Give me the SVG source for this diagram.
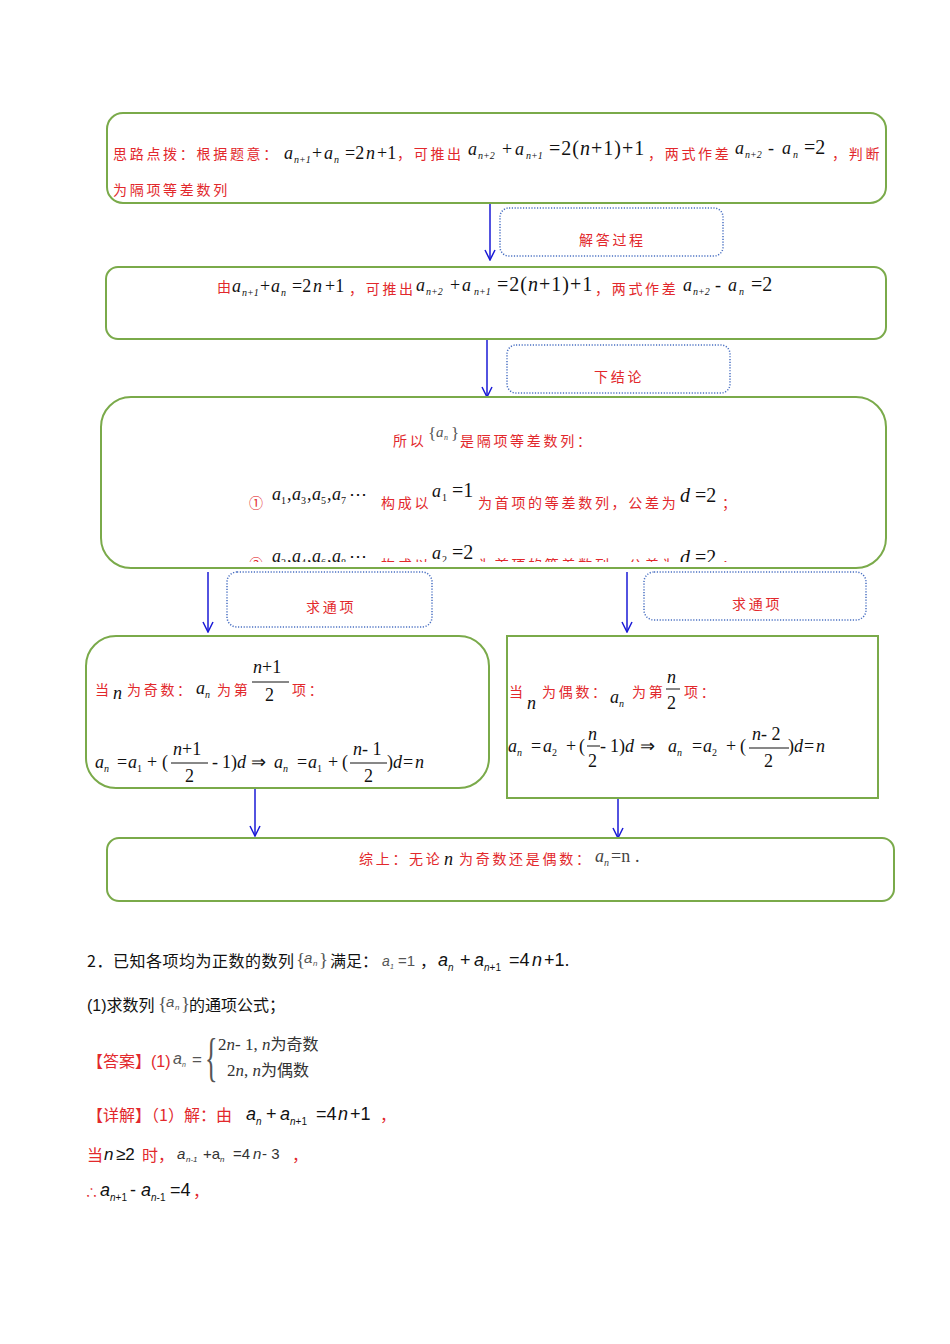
<svg xmlns="http://www.w3.org/2000/svg" width="950" height="1344" viewBox="0 0 950 1344">
<style>
.box{fill:#fff;stroke:#7aaa4a;stroke-width:2}
.dot{fill:#fff;stroke:#4a70c2;stroke-width:1.5;stroke-dasharray:1.2 1.6}
.cn{font-family:"Noto Sans CJK SC",sans-serif;font-size:14px;fill:#e2282c;letter-spacing:2.7px}
.m{font-family:"Liberation Serif",serif;font-style:italic;font-size:18px;fill:#111}
.u{font-style:normal}
.sb{font-size:10px}
.big{font-size:20px}
.tx{font-family:"Noto Sans CJK SC",sans-serif;font-size:16px;fill:#111}
.rd{fill:#e2282c}
.ms{font-family:"Liberation Sans",sans-serif;font-style:italic;font-size:18px;fill:#111}
.gr{fill:#555}
.conn line{stroke:#1a1ad6;stroke-width:1.5}
</style>
<defs>
<marker id="ah" viewBox="0 0 12 12" refX="11" refY="6" markerWidth="12" markerHeight="12" markerUnits="userSpaceOnUse" orient="auto">
<path d="M1,1 L11,6 L1,11" fill="none" stroke="#1a1ad6" stroke-width="1.5"/>
</marker>
<clipPath id="c3"><rect x="101" y="397" width="786" height="165"/></clipPath>
</defs>

<g id="connectors" class="conn">
<line x1="490" y1="200" x2="490" y2="260" marker-end="url(#ah)"/>
<line x1="487" y1="337" x2="487" y2="397" marker-end="url(#ah)"/>
<line x1="208" y1="572" x2="208" y2="632" marker-end="url(#ah)"/>
<line x1="627" y1="572" x2="627" y2="632" marker-end="url(#ah)"/>
<line x1="255" y1="776" x2="255" y2="836" marker-end="url(#ah)"/>
<line x1="618" y1="778" x2="618" y2="838" marker-end="url(#ah)"/>
</g>

<g id="node-hint">
<rect class="box" x="107" y="113" width="779" height="90" rx="16"/>
<text class="cn" x="113" y="159">思路点拨：根据题意：</text>
<text class="m" y="159"><tspan x="284">a</tspan><tspan class="sb" x="294" dy="4">n+1</tspan><tspan class="u" x="312" dy="-4">+</tspan><tspan x="324">a</tspan><tspan class="sb" x="334" dy="4">n</tspan><tspan class="u" x="345" dy="-4">=2</tspan><tspan x="366">n</tspan><tspan class="u" x="377">+1</tspan></text>
<text class="cn" x="397" y="159">，可推出</text>
<text class="m" y="155"><tspan x="468">a</tspan><tspan class="sb" x="478" dy="4">n+2</tspan><tspan class="u" x="502" dy="-4">+</tspan><tspan x="515">a</tspan><tspan class="sb" x="526" dy="4">n+1</tspan><tspan class="u big" x="549" dy="-4" letter-spacing="1">=2(<tspan style="font-style:italic">n</tspan>+1)+1</tspan></text>
<text class="cn" x="648" y="159">，两式作差</text>
<text class="m" y="154"><tspan x="735">a</tspan><tspan class="sb" x="745" dy="4">n+2</tspan><tspan class="u" x="768" dy="-4">-</tspan><tspan x="782">a</tspan><tspan class="sb" x="793" dy="4">n</tspan><tspan class="u big" x="804" dy="-4">=2</tspan></text>
<text class="cn" x="832" y="159">，判断</text>
<text class="cn" x="113" y="195">为隔项等差数列</text>
</g>

<g id="label-process">
<rect class="dot" x="500" y="208" width="223" height="48" rx="9"/>
<text class="cn" x="579" y="245">解答过程</text>
</g>

<g id="node-process">
<rect class="box" x="106" y="267" width="780" height="72" rx="12"/>
<text class="cn" x="217" y="292">由</text>
<text class="m" y="292"><tspan x="232">a</tspan><tspan class="sb" x="242" dy="4">n+1</tspan><tspan class="u" x="260" dy="-4">+</tspan><tspan x="271">a</tspan><tspan class="sb" x="281" dy="4">n</tspan><tspan class="u" x="292" dy="-4">=2</tspan><tspan x="313">n</tspan><tspan class="u" x="325">+1</tspan></text>
<text class="cn" x="349" y="294">，可推出</text>
<text class="m" y="291"><tspan x="416">a</tspan><tspan class="sb" x="426" dy="4">n+2</tspan><tspan class="u" x="450" dy="-4">+</tspan><tspan x="462">a</tspan><tspan class="sb" x="474" dy="4">n+1</tspan><tspan class="u big" x="497" dy="-4" letter-spacing="1">=2(<tspan style="font-style:italic">n</tspan>+1)+1</tspan></text>
<text class="cn" x="595" y="294">，两式作差</text>
<text class="m" y="291"><tspan x="683">a</tspan><tspan class="sb" x="693" dy="4">n+2</tspan><tspan class="u" x="715" dy="-4">-</tspan><tspan x="728">a</tspan><tspan class="sb" x="739" dy="4">n</tspan><tspan class="u big" x="751" dy="-4">=2</tspan></text>
</g>

<g id="label-conclusion">
<rect class="dot" x="507" y="345" width="223" height="48" rx="9"/>
<text class="cn" x="594" y="382">下结论</text>
</g>

<g id="node-conclusion">
<rect class="box" x="101" y="397" width="785" height="171" rx="30"/>
<text class="cn" x="393" y="446">所以</text>
<text class="m u" x="428" y="439" style="font-size:17px;fill:#555;font-style:normal">{</text>
<text class="m gr" x="436" y="437" style="font-size:15px">a</text>
<text class="m sb gr" x="444" y="440" style="font-size:8px">n</text>
<text class="m" x="451" y="439" style="font-size:17px;fill:#555;font-style:normal">}</text>
<text class="cn" x="460" y="446">是隔项等差数列：</text>
<text class="cn" x="249" y="508" letter-spacing="0">①</text>
<text class="m" y="500"><tspan x="272">a</tspan><tspan class="sb u" x="281" dy="4">1</tspan><tspan class="u" x="287" dy="-4">,</tspan><tspan x="292">a</tspan><tspan class="sb u" x="301" dy="4">3</tspan><tspan class="u" x="307" dy="-4">,</tspan><tspan x="312">a</tspan><tspan class="sb u" x="321" dy="4">5</tspan><tspan class="u" x="327" dy="-4">,</tspan><tspan x="332">a</tspan><tspan class="sb u" x="341" dy="4">7</tspan><tspan class="u" x="349" dy="-4">⋯</tspan></text>
<text class="cn" x="381" y="508">构成以</text>
<text class="m" y="497"><tspan x="432">a</tspan><tspan class="sb u" x="442" dy="4">1</tspan><tspan class="u big" x="452" dy="-4">=1</tspan></text>
<text class="cn" x="478" y="508">为首项的等差数列，公差为</text>
<text class="m big" y="502"><tspan x="680">d</tspan><tspan class="u" x="695">=2</tspan></text>
<text class="cn" x="722" y="508">；</text>
<g clip-path="url(#c3)">
<text class="cn" x="249" y="569" letter-spacing="0">②</text>
<text class="m" y="562"><tspan x="272">a</tspan><tspan class="sb u" x="281" dy="4">2</tspan><tspan class="u" x="287" dy="-4">,</tspan><tspan x="292">a</tspan><tspan class="sb u" x="301" dy="4">4</tspan><tspan class="u" x="307" dy="-4">,</tspan><tspan x="312">a</tspan><tspan class="sb u" x="321" dy="4">6</tspan><tspan class="u" x="327" dy="-4">,</tspan><tspan x="332">a</tspan><tspan class="sb u" x="341" dy="4">8</tspan><tspan class="u" x="349" dy="-4">⋯</tspan></text>
<text class="cn" x="381" y="570">构成以</text>
<text class="m" y="559"><tspan x="432">a</tspan><tspan class="sb u" x="442" dy="4">2</tspan><tspan class="u big" x="452" dy="-4">=2</tspan></text>
<text class="cn" x="478" y="570">为首项的等差数列，公差为</text>
<text class="m big" y="564"><tspan x="680">d</tspan><tspan class="u" x="695">=2</tspan></text>
<text class="cn" x="722" y="570">；</text>
</g>
</g>

<g id="label-odd">
<rect class="dot" x="227" y="572" width="205" height="55" rx="10"/>
<text class="cn" x="306" y="612">求通项</text>
</g>

<g id="label-even">
<rect class="dot" x="644" y="572" width="222" height="48" rx="10"/>
<text class="cn" x="732" y="609">求通项</text>
</g>

<g id="node-odd">
<rect class="box" x="86" y="636" width="403" height="152" rx="30"/>
<text class="cn" x="95" y="695" letter-spacing="0">当</text>
<text class="m" x="113" y="699">n</text>
<text class="cn" x="127" y="695" letter-spacing="1">为奇数：</text>
<text class="m" y="694"><tspan x="196">a</tspan><tspan class="sb" x="205" dy="4">n</tspan></text>
<text class="cn" x="217" y="695" letter-spacing="1">为第</text>
<text class="m" x="253" y="673">n<tspan class="u">+1</tspan></text>
<line x1="252" y1="682" x2="289" y2="682" stroke="#111" stroke-width="1"/>
<text class="m u" x="265" y="701">2</text>
<text class="cn" x="292" y="695" letter-spacing="0">项：</text>
<text class="m" y="768"><tspan x="95">a</tspan><tspan class="sb" x="104" dy="4">n</tspan><tspan class="u" x="117" dy="-4">=</tspan><tspan x="128">a</tspan><tspan class="sb u" x="137" dy="4">1</tspan><tspan class="u" x="147" dy="-4">+</tspan><tspan class="u" x="162">(</tspan><tspan x="212">-</tspan><tspan class="u" x="222">1)</tspan><tspan x="237">d</tspan><tspan class="u" x="251">⇒</tspan><tspan x="274">a</tspan><tspan class="sb" x="283" dy="4">n</tspan><tspan class="u" x="297" dy="-4">=</tspan><tspan x="308">a</tspan><tspan class="sb u" x="317" dy="4">1</tspan><tspan class="u" x="328" dy="-4">+</tspan><tspan class="u" x="342">(</tspan><tspan class="u" x="387">)</tspan><tspan x="393">d</tspan><tspan class="u" x="403">=</tspan><tspan x="415">n</tspan></text>
<text class="m" x="173" y="755">n<tspan class="u">+1</tspan></text>
<line x1="171" y1="763" x2="208" y2="763" stroke="#111" stroke-width="1"/>
<text class="m u" x="185" y="782">2</text>
<text class="m" x="353" y="755">n<tspan class="u">- 1</tspan></text>
<line x1="350" y1="763" x2="387" y2="763" stroke="#111" stroke-width="1"/>
<text class="m u" x="364" y="782">2</text>
</g>

<g id="node-even">
<rect class="box" x="507" y="636" width="371" height="162"/>
<text class="cn" x="509" y="697" letter-spacing="0">当</text>
<text class="m" x="527" y="709">n</text>
<text class="cn" x="542" y="697" letter-spacing="1">为偶数：</text>
<text class="m" y="703"><tspan x="610">a</tspan><tspan class="sb" x="619" dy="4">n</tspan></text>
<text class="cn" x="632" y="697" letter-spacing="0">为第</text>
<text class="m" x="667" y="683">n</text>
<line x1="666" y1="689" x2="680" y2="689" stroke="#111" stroke-width="1"/>
<text class="m u" x="667" y="709">2</text>
<text class="cn" x="684" y="697" letter-spacing="0">项：</text>
<text class="m" y="752"><tspan x="508">a</tspan><tspan class="sb" x="517" dy="4">n</tspan><tspan class="u" x="531" dy="-4">=</tspan><tspan x="543">a</tspan><tspan class="sb u" x="552" dy="4">2</tspan><tspan class="u" x="566" dy="-4">+</tspan><tspan class="u" x="579">(</tspan><tspan x="600">-</tspan><tspan class="u" x="610">1)</tspan><tspan x="625">d</tspan><tspan class="u" x="640">⇒</tspan><tspan x="668">a</tspan><tspan class="sb" x="677" dy="4">n</tspan><tspan class="u" x="692" dy="-4">=</tspan><tspan x="703">a</tspan><tspan class="sb u" x="712" dy="4">2</tspan><tspan class="u" x="726" dy="-4">+</tspan><tspan class="u" x="740">(</tspan><tspan class="u" x="788">)</tspan><tspan x="794">d</tspan><tspan class="u" x="804">=</tspan><tspan x="816">n</tspan></text>
<text class="m" x="588" y="740">n</text>
<line x1="587" y1="746" x2="600" y2="746" stroke="#111" stroke-width="1"/>
<text class="m u" x="588" y="767">2</text>
<text class="m" x="752" y="740">n<tspan class="u">- 2</tspan></text>
<line x1="749" y1="748" x2="789" y2="748" stroke="#111" stroke-width="1"/>
<text class="m u" x="764" y="767">2</text>
</g>

<g id="node-summary">
<rect class="box" x="107" y="838" width="787" height="63" rx="12"/>
<text class="cn" x="359" y="864">综上：无论</text>
<text class="m" x="444" y="865">n</text>
<text class="cn" x="459" y="864">为奇数还是偶数：</text>
<text class="m" y="862"><tspan x="595" fill="#444">a</tspan><tspan class="sb" x="604" dy="4" fill="#444">n</tspan><tspan class="u" x="611" dy="-4" fill="#444">=n</tspan><tspan class="u" x="635" fill="#444">.</tspan></text>
</g>

<g id="problem-text">
<text class="tx" x="87" y="967" letter-spacing="0.5">2．已知各项均为正数的数列</text>
<text class="m u gr" x="296" y="966" style="font-size:19px;font-style:normal">{</text>
<text class="ms gr" x="304" y="963" style="font-size:15px">a</text>
<text class="ms gr" x="313" y="966" style="font-size:8px">n</text>
<text class="m gr" x="319" y="966" style="font-size:19px;font-style:normal">}</text>
<text class="tx" x="330" y="967">满足：</text>
<text class="ms gr" y="966" style="font-size:14px"><tspan x="382">a</tspan><tspan x="390" dy="3" style="font-size:7px">1</tspan><tspan x="398" dy="-3" style="font-style:normal;font-size:15px">=1</tspan></text>
<text class="tx" x="420" y="967">，</text>
<text class="ms" y="966"><tspan x="438">a</tspan><tspan x="448" dy="5" style="font-size:10px">n</tspan><tspan x="460" dy="-5" style="font-style:normal">+</tspan><tspan x="474">a</tspan><tspan x="484" dy="5" style="font-size:10px;font-style:normal"><tspan style="font-style:italic">n</tspan>+1</tspan><tspan x="509" dy="-5" style="font-style:normal">=4</tspan><tspan x="532">n</tspan><tspan x="544" style="font-style:normal">+1.</tspan></text>

<text class="tx" x="87" y="1011"><tspan style="font-family:'Liberation Sans',sans-serif">(1)</tspan>求数列</text>
<text class="m gr" x="158" y="1010" style="font-size:19px;font-style:normal">{</text>
<text class="ms gr" x="166" y="1007" style="font-size:15px">a</text>
<text class="ms gr" x="175" y="1010" style="font-size:8px">n</text>
<text class="m gr" x="181" y="1010" style="font-size:19px;font-style:normal">}</text>
<text class="tx" x="189" y="1011">的通项公式；</text>

<text class="tx rd" x="87" y="1067">【答案】<tspan style="font-family:'Liberation Sans',sans-serif">(1)</tspan></text>
<text class="ms gr" x="173" y="1064" style="font-size:16px">a</text>
<text class="ms gr" x="182" y="1067" style="font-size:7px">n</text>
<text class="ms gr" x="192" y="1065" style="font-style:normal;font-size:17px">=</text>
<text class="m gr" x="0" y="0" style="font-style:normal;font-size:52px" transform="translate(205,1075) scale(0.5,1)">{</text>
<text class="m" x="218" y="1050" style="font-size:17px;fill:#333"><tspan class="u">2</tspan>n<tspan class="u">- 1,</tspan> n<tspan style="font-family:'Noto Sans CJK SC',sans-serif;font-style:normal;font-size:16px">为奇数</tspan></text>
<text class="m" x="227" y="1076" style="font-size:17px;fill:#333"><tspan class="u">2</tspan>n<tspan class="u">,</tspan> n<tspan style="font-family:'Noto Sans CJK SC',sans-serif;font-style:normal;font-size:16px">为偶数</tspan></text>

<text class="tx rd" x="87" y="1121">【详解】（1）解：由</text>
<text class="ms" y="1120"><tspan x="246">a</tspan><tspan x="256" dy="5" style="font-size:10px">n</tspan><tspan x="266" dy="-5" style="font-style:normal">+</tspan><tspan x="280">a</tspan><tspan x="290" dy="5" style="font-size:10px;font-style:normal"><tspan style="font-style:italic">n</tspan>+1</tspan><tspan x="316" dy="-5" style="font-style:normal">=4</tspan><tspan x="338">n</tspan><tspan x="350" style="font-style:normal">+1</tspan></text>
<text class="tx rd" x="380" y="1121">，</text>

<text class="tx rd" x="87" y="1161">当</text>
<text class="ms" y="1160" style="font-size:17px"><tspan x="104">n</tspan><tspan x="116" style="font-style:normal">≥2</tspan></text>
<text class="tx rd" x="142" y="1161">时，</text>
<text class="ms gr" y="1159" style="font-size:15px;fill:#333"><tspan x="177">a</tspan><tspan x="186" dy="3" style="font-size:8px">n-1</tspan><tspan x="203" dy="-3" style="font-style:normal">+a</tspan><tspan x="220" dy="3" style="font-size:8px">n</tspan><tspan x="233" dy="-3" style="font-style:normal">=4</tspan><tspan x="253">n</tspan><tspan x="262" style="font-style:normal">- 3</tspan></text>
<text class="tx rd" x="292" y="1161">，</text>

<text class="tx rd" x="85" y="1197" style="font-size:13px">∴</text>
<text class="ms" y="1196"><tspan x="100">a</tspan><tspan x="110" dy="5" style="font-size:10px;font-style:normal"><tspan style="font-style:italic">n</tspan>+1</tspan><tspan x="130" dy="-5" style="font-style:normal">-</tspan><tspan x="141">a</tspan><tspan x="151" dy="5" style="font-size:10px;font-style:normal"><tspan style="font-style:italic">n</tspan>-1</tspan><tspan x="170" dy="-5" style="font-style:normal">=4</tspan></text>
<text class="tx rd" x="193" y="1197">，</text>
</g>
</svg>
